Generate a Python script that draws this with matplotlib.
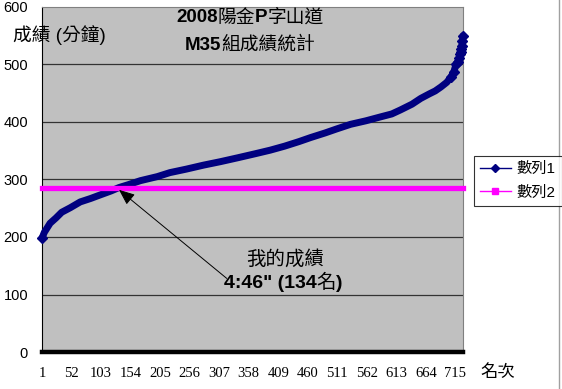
#!/usr/bin/env python3
"""2008 陽金P字山道 M35 組成績統計 - sorted finishing times."""

from matplotlib import pyplot as plt
from matplotlib.lines import Line2D

FAMILY = ["Liberation Sans", "Noto Sans CJK TC", "DejaVu Sans"]

# rank (名次) and finishing time in minutes
rank = [1, 5, 10, 15, 25, 35, 50, 67, 85, 101, 120, 134, 150, 171, 200,
        222, 250, 280, 309, 340, 370, 395, 420, 445, 465, 490, 510, 534,
        560, 586, 605, 620, 640, 655, 670, 680, 690, 700, 707, 712, 716,
        719, 721, 723, 724, 725, 726, 727, 728]
minutes = [198, 208, 216, 224, 233, 243, 251, 261, 267, 273, 280, 286, 291,
           298, 305, 312, 318, 325, 331, 338, 345, 351, 358, 366, 373, 381,
           388, 396, 402, 409, 414, 421, 431, 441, 449, 454, 461, 469, 478,
           487, 500, 505, 511, 518, 522, 527, 533, 540, 550]

# series 2: my own time, 4:46 = 286 minutes
my_rank = [1, 728]
my_time = [286, 286]

xticks = list(range(1, 716, 51))
yticks = [0, 100, 200, 300, 400, 500, 600]


def mixed_text(fig, xc, yc, parts, size):
    """Draw bold/regular pieces side by side, centred on (xc, yc) in pixels."""
    W, H = fig.bbox.width, fig.bbox.height
    texts = [fig.text(0, yc / H, s, fontsize=size, fontweight=w,
                      family=FAMILY, va="center", ha="left")
             for s, w in parts]
    renderer = fig.canvas.get_renderer()
    widths = [t.get_window_extent(renderer).width for t in texts]
    x = xc - sum(widths) / 2
    for t, w in zip(texts, widths):
        t.set_position((x / W, yc / H))
        x += w


def main():
    fig = plt.figure(figsize=(5.62, 3.89), dpi=100)
    W, H = 562, 389
    ax = fig.add_axes([42 / W, 1 - 352 / H, 421 / W, 345 / H])
    ax.set_facecolor("#c0c0c0")

    ax.set_xlim(1, 728)
    ax.set_ylim(0, 600)
    ax.set_yticks(yticks)
    ax.set_xticks(xticks)
    ax.set_xticklabels([str(v) for v in xticks], family="Liberation Serif",
                       fontsize=10.5)
    ax.set_yticklabels([str(v) for v in yticks], family="Liberation Sans",
                       fontsize=10.5)
    ax.tick_params(axis="both", length=0)
    ax.tick_params(axis="y", pad=10)
    ax.tick_params(axis="x", pad=11)

    for v in yticks[1:-1]:
        ax.axhline(v, color="#333333", lw=0.9, zorder=1)

    ax.spines["left"].set_color("black")
    ax.spines["left"].set_linewidth(0.8)
    ax.spines["bottom"].set_color("black")
    ax.spines["bottom"].set_linewidth(3.2)
    for s in ("top", "right"):
        ax.spines[s].set_color("#808080")
        ax.spines[s].set_linewidth(0.8)

    top_marks = list(range(38, len(rank)))
    ax.plot(rank, minutes, color="#000080", lw=5, marker="D",
            markersize=5.5, markevery=[0] + top_marks,
            solid_joinstyle="round", solid_capstyle="round",
            clip_on=False, zorder=3)
    ax.plot(my_rank, my_time, color="#ff00ff", lw=3.8,
            solid_capstyle="projecting", clip_on=False, zorder=4)

    ax.annotate("", xy=(134, 282), xytext=(320, 128),
                arrowprops=dict(arrowstyle="-|>,head_length=0.6,head_width=0.25",
                                color="black", lw=0.7,
                                mutation_scale=16, shrinkA=0, shrinkB=0),
                zorder=5)

    # titles and annotation text (pixel coords from the top-left)
    mixed_text(fig, 250, H - 18, [("2008", "bold"), ("陽金", "normal"),
                                  ("P", "bold"), ("字山道", "normal")], 13.5)
    mixed_text(fig, 250, H - 45, [("M35", "bold"),
                                  ("組成績統計", "normal")], 13.5)
    mixed_text(fig, 285, H - 259, [("我的成績", "normal")], 14)
    mixed_text(fig, 283, H - 283, [("4:46\" (134", "bold"), ("名", "normal"),
                                   (")", "bold")], 14)

    fig.text(13 / W, 1 - 35 / H, "成績 (分鐘)", family=FAMILY, fontsize=13.5,
             va="center", ha="left")
    fig.text(480 / W, 1 - 372 / H, "名次", family=FAMILY, fontsize=12.5,
             va="center", ha="left")

    handles = [
        Line2D([], [], color="#000080", lw=1, marker="D", markersize=4),
        Line2D([], [], color="#ff00ff", lw=1, marker="s", markersize=5),
    ]
    leg = fig.legend(handles, ["數列1", "數列2"], loc="center left",
                     bbox_to_anchor=(474 / W, 1 - 181 / H),
                     prop={"family": FAMILY, "size": 11}, frameon=True,
                     fancybox=False, borderpad=0.4, handlelength=2.0,
                     handletextpad=0.4, labelspacing=0.6, borderaxespad=0)
    leg.get_frame().set_edgecolor("black")
    leg.get_frame().set_linewidth(0.8)

    fig.add_artist(Line2D([559 / W, 559 / W], [0, 1], color="#a0a0a0",
                          lw=1, transform=fig.transFigure))

    fig.savefig("out.png", dpi=100)


if __name__ == "__main__":
    main()
